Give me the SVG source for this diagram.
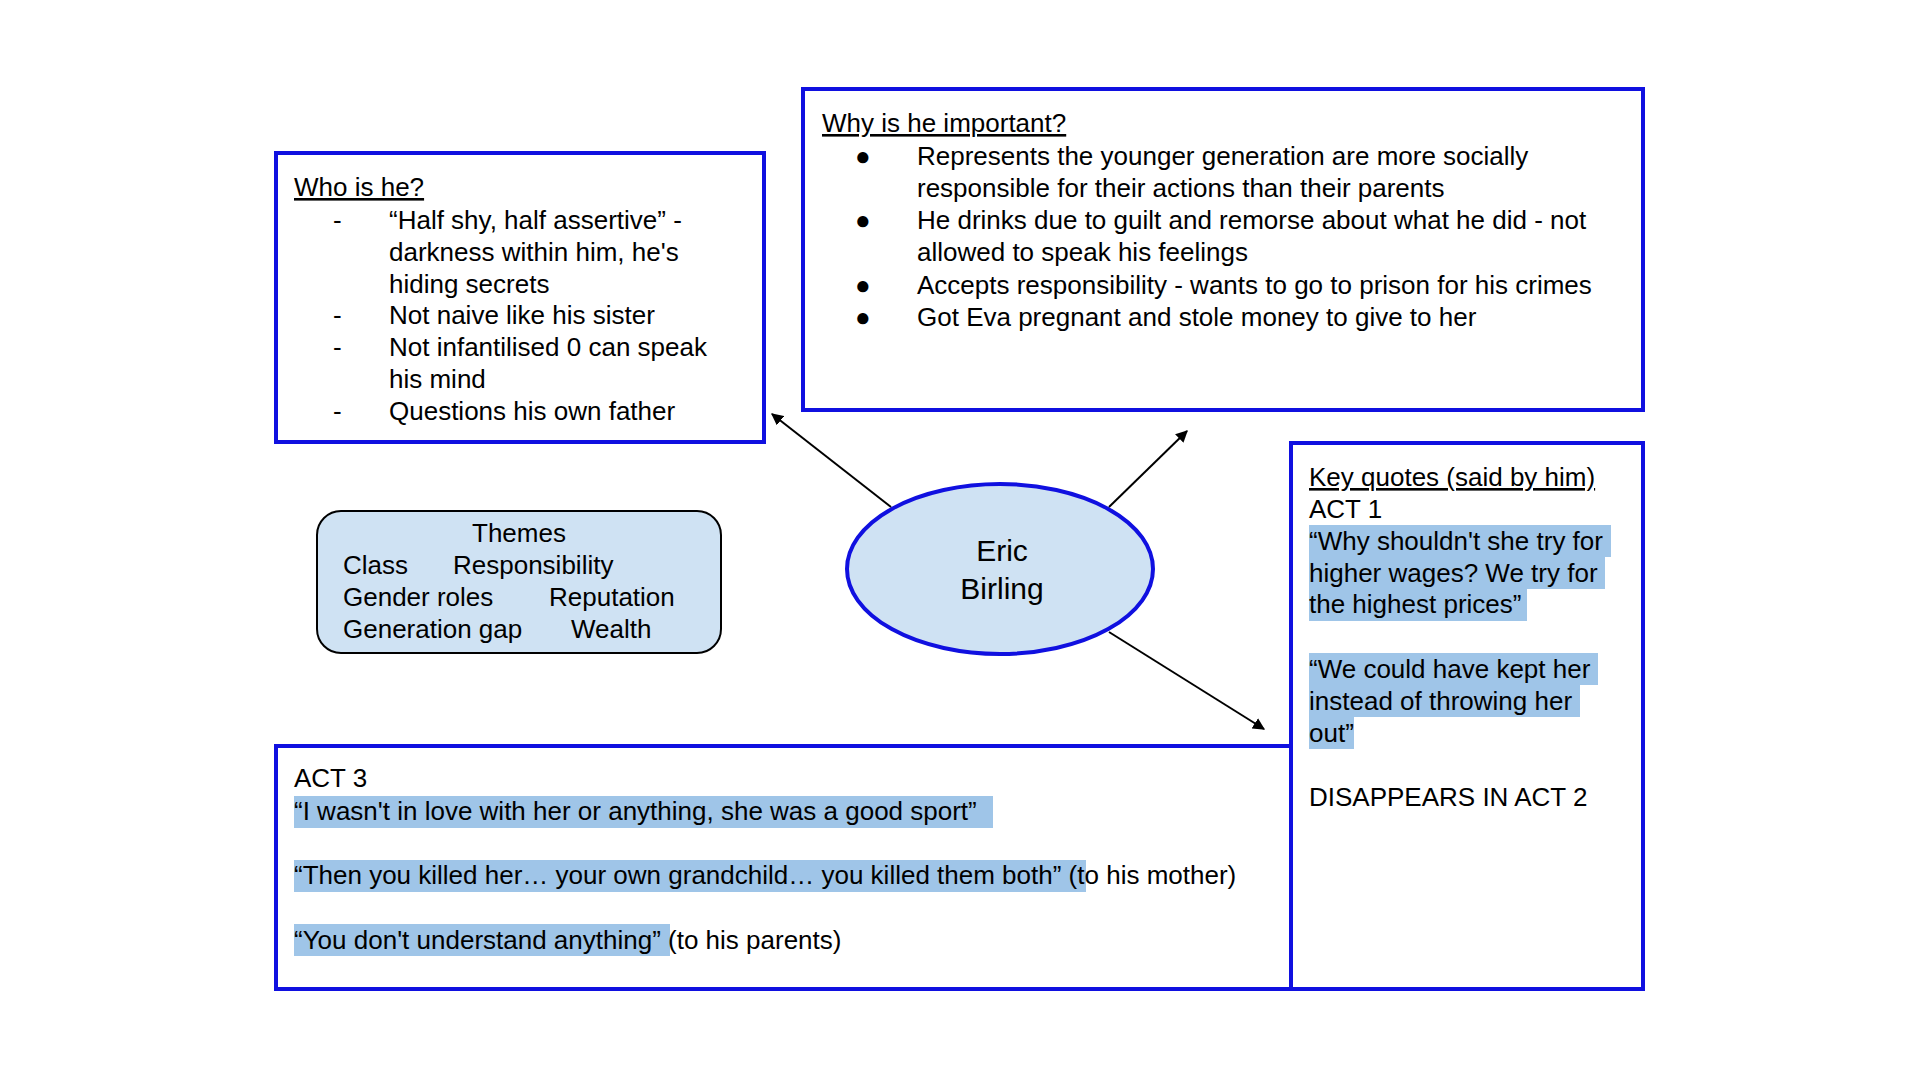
<svg xmlns="http://www.w3.org/2000/svg" width="1920" height="1080" viewBox="0 0 1920 1080">
<defs>
<style>
text{font-family:"Liberation Sans",Arial,sans-serif;font-size:26px;fill:#000}
.box{fill:#fff;stroke:#1010e0;stroke-width:4}
.hl{fill:#9fc5e8}
.u{text-decoration:underline}
.c{stroke:#000;stroke-width:2;fill:none;marker-end:url(#ah)}
</style>
<marker id="ah" viewBox="0 0 10 10" refX="9" refY="5" markerWidth="6" markerHeight="6" orient="auto"><path d="M0,0L10,5L0,10z" fill="#000"/></marker>
</defs>
<rect width="1920" height="1080" fill="#fff"/>
<g id="who">
<rect class="box" x="276" y="153" width="488" height="289"/>
<text x="294" y="196" class="u">Who is he?</text>
<text x="333" y="229">-</text><text x="389" y="229">“Half shy, half assertive” -</text>
<text x="389" y="261">darkness within him, he's</text>
<text x="389" y="293">hiding secrets</text>
<text x="333" y="324">-</text><text x="389" y="324">Not naive like his sister</text>
<text x="333" y="356">-</text><text x="389" y="356">Not infantilised 0 can speak</text>
<text x="389" y="388">his mind</text>
<text x="333" y="420">-</text><text x="389" y="420">Questions his own father</text>
</g>
<g id="why">
<rect class="box" x="803" y="89" width="840" height="321"/>
<text x="822" y="132" class="u">Why is he important?</text>
<text x="855" y="165">●</text><text x="917" y="165">Represents the younger generation are more socially</text>
<text x="917" y="197">responsible for their actions than their parents</text>
<text x="855" y="229">●</text><text x="917" y="229">He drinks due to guilt and remorse about what he did - not</text>
<text x="917" y="261">allowed to speak his feelings</text>
<text x="855" y="294">●</text><text x="917" y="294">Accepts responsibility - wants to go to prison for his crimes</text>
<text x="855" y="326">●</text><text x="917" y="326">Got Eva pregnant and stole money to give to her</text>
</g>
<g id="quotes">
<rect class="box" x="1291" y="443" width="352" height="546"/>
<rect class="hl" x="1309" y="525" width="302" height="32"/>
<rect class="hl" x="1309" y="557" width="296" height="32"/>
<rect class="hl" x="1309" y="589" width="218" height="32"/>
<rect class="hl" x="1309" y="653" width="289" height="32"/>
<rect class="hl" x="1309" y="685" width="271" height="32"/>
<rect class="hl" x="1309" y="717" width="45" height="32"/>
<text x="1309" y="486" class="u">Key quotes (said by him)</text>
<text x="1309" y="518">ACT 1</text>
<text x="1309" y="550">“Why shouldn't she try for</text>
<text x="1309" y="582">higher wages? We try for</text>
<text x="1309" y="613">the highest prices”</text>
<text x="1309" y="678">“We could have kept her</text>
<text x="1309" y="710">instead of throwing her</text>
<text x="1309" y="742">out”</text>
<text x="1309" y="806">DISAPPEARS IN ACT 2</text>
</g>
<g id="act3">
<rect class="box" x="276" y="746" width="1015" height="243"/>
<rect class="hl" x="294" y="796" width="699" height="32"/>
<rect class="hl" x="294" y="860" width="792" height="32"/>
<rect class="hl" x="294" y="924" width="376" height="32"/>
<text x="294" y="787">ACT 3</text>
<text x="294" y="820">“I wasn't in love with her or anything, she was a good sport”</text>
<text x="294" y="884">“Then you killed her… your own grandchild… you killed them both” (to his mother)</text>
<text x="294" y="949">“You don't understand anything” (to his parents)</text>
</g>
<g id="themes">
<rect x="317" y="511" width="404" height="142" rx="24" fill="#cfe2f3" stroke="#000" stroke-width="2"/>
<text x="519" y="542" text-anchor="middle">Themes</text>
<text x="343" y="574">Class</text><text x="453" y="574">Responsibility</text>
<text x="343" y="606">Gender roles</text><text x="549" y="606">Reputation</text>
<text x="343" y="638">Generation gap</text><text x="571" y="638">Wealth</text>
</g>
<g id="eric">
<ellipse cx="1000" cy="569" rx="153" ry="85" fill="#cfe2f3" stroke="#1010e0" stroke-width="4"/>
<text x="1002" y="561" text-anchor="middle" style="font-size:30px">Eric</text>
<text x="1002" y="599" text-anchor="middle" style="font-size:30px">Birling</text>
</g>
<g id="connectors">
<line class="c" x1="891" y1="507" x2="772" y2="414"/>
<line class="c" x1="1109" y1="507" x2="1187" y2="431"/>
<line class="c" x1="1109" y1="632" x2="1264" y2="729"/>
</g>
</svg>
